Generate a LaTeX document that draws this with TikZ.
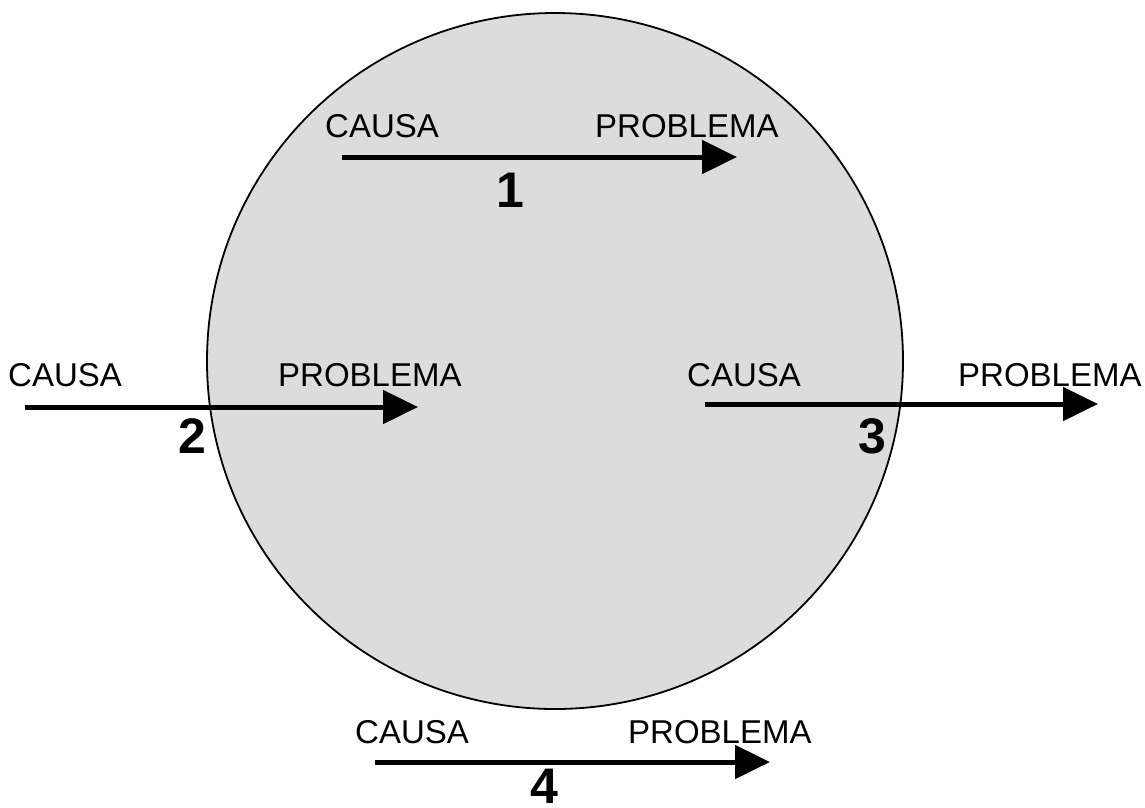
\documentclass[tikz,border=0pt]{standalone}
\usepackage{fontspec}
\setmainfont{Liberation Sans}
\usetikzlibrary{arrows.meta}
\definecolor{circfill}{RGB}{220,220,220}
\tikzset{
  lbl/.style={inner sep=0pt, anchor=base west, font=\fontsize{33}{40}\selectfont},
  num/.style={inner sep=0pt, anchor=base, font=\fontsize{50}{60}\selectfont\bfseries},
  causal/.style={line width=5pt, -{Triangle[length=35pt,width=33pt]}, shorten >=0pt}
}
\begin{document}
\begin{tikzpicture}[x=1pt,y=-1pt]
\useasboundingbox (0,0) rectangle (1145,807);
\node[circle, draw=black, line width=1.8pt, fill=circfill, minimum size=696pt, inner sep=0pt] (circ) at (555,361) {};
% arrow 1
\coordinate (a1s) at (342,157); \coordinate (a1e) at (737,157);
\node[lbl] (c1) at (325,137) {CAUSA};
\node[lbl] (p1) at (595,137) {PROBLEMA};
\node[num] (n1) at (510,207) {1};
\draw[causal] (a1s) -- (a1e);
% arrow 2
\coordinate (a2s) at (25,407); \coordinate (a2e) at (418,407);
\node[lbl] (c2) at (8,386) {CAUSA};
\node[lbl] (p2) at (278,386) {PROBLEMA};
\node[num] (n2) at (192,453) {2};
\draw[causal] (a2s) -- (a2e);
% arrow 3
\coordinate (a3s) at (705,404); \coordinate (a3e) at (1098,404);
\node[lbl] (c3) at (687,386) {CAUSA};
\node[lbl] (p3) at (958,386) {PROBLEMA};
\node[num] (n3) at (872,453) {3};
\draw[causal] (a3s) -- (a3e);
% arrow 4
\coordinate (a4s) at (375,762); \coordinate (a4e) at (770,762);
\node[lbl] (c4) at (355,743) {CAUSA};
\node[lbl] (p4) at (628,743) {PROBLEMA};
\node[num] (n4) at (544,803) {4};
\draw[causal] (a4s) -- (a4e);
\end{tikzpicture}
\end{document}
